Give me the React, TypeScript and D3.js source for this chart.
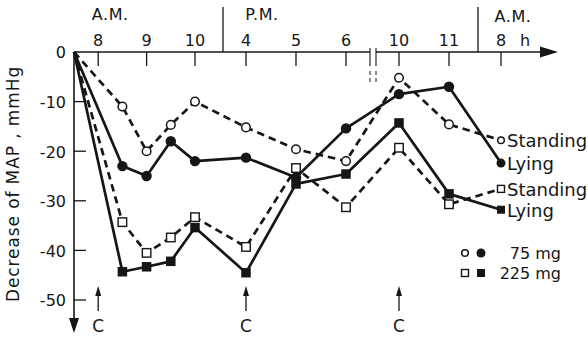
import React from "react";
import * as d3 from "d3";

// Clock hours of each measurement (day 1 from 7:30 A.M., 32 = 8 A.M. next day)
const HOURS = [7.5, 8.5, 9, 9.5, 10, 16, 17, 18, 22, 23, 32];

// Decrease of mean arterial pressure, mmHg
const STANDING_75 = [0, -11, -20, -14.7, -10, -15.2, -19.6, -22, -5.2, -14.6, -17.8];
const LYING_75 = [0, -23, -25, -18, -22, -21.3, -25.3, -15.4, -8.5, -7, -22.4];
const STANDING_225 = [0, -34.3, -40.5, -37.4, -33.3, -39.3, -23.4, -31.3, -19.3, -30.7, -27.6];
const LYING_225 = [0, -44.3, -43.3, -42.2, -35.4, -44.5, -26.6, -24.6, -14.3, -28.6, -31.8];

const TICK_HOURS = [8, 9, 10, 16, 17, 18, 22, 23, 32];
const TICK_LABELS = ["8", "9", "10", "4", "5", "6", "10", "11", "8"];
const Y_TICKS = [0, -10, -20, -30, -40, -50];
const CONTROL_HOURS = [8, 16, 22];
const PERIOD_LABELS = ["A.M.", "P.M.", "A.M."];
const DIVIDER_HOURS = [12, 24];
const BREAK_HOUR = 20;

const INK = "#161616";
const FONT = "'DejaVu Sans', 'Liberation Sans', sans-serif";

type Series = {
  values: number[];
  dashed: boolean;
  shape: "circle" | "square";
  filled: boolean;
  label: string;
};

const SERIES: Series[] = [
  { values: STANDING_75, dashed: true, shape: "circle", filled: false, label: "Standing" },
  { values: LYING_75, dashed: false, shape: "circle", filled: true, label: "Lying" },
  { values: STANDING_225, dashed: true, shape: "square", filled: false, label: "Standing" },
  { values: LYING_225, dashed: false, shape: "square", filled: true, label: "Lying" },
];

const LEGEND = [
  { shape: "circle" as const, text: "75 mg" },
  { shape: "square" as const, text: "225 mg" },
];

function Marker({ x, y, shape, filled, small }: { x: number; y: number; shape: "circle" | "square"; filled: boolean; small?: boolean }) {
  if (shape === "circle") {
    const r = filled ? (small ? 4.5 : 5.2) : small ? 3.3 : 4.3;
    return (
      <circle cx={x} cy={y} r={r} fill={filled ? INK : "#fff"} stroke={INK} strokeWidth={filled ? 0 : 1.5} />
    );
  }
  const s = filled ? (small ? 8 : 9.5) : small ? 7 : 8.5;
  return (
    <rect x={x - s / 2} y={y - s / 2} width={s} height={s} fill={filled ? INK : "#fff"} stroke={INK} strokeWidth={filled ? 0 : 1.4} />
  );
}

export default function App() {
  const W = 588;
  const H = 340;

  // Piecewise time axis: the afternoon and night stretches are compressed
  const x = d3
    .scaleLinear()
    .domain([7.5, 10, 12, 16, 18, 20, 22, 23, 24, 32])
    .range([74, 195, 223, 246, 346, 373, 399, 449, 478, 501]);
  const y = d3.scaleLinear().domain([0, -50]).range([52, 300]);

  const x0 = x(7.5);
  const y0 = y(0);
  const axisEnd = 558;
  const yAxisEnd = 333;
  const xb = x(BREAK_HOUR);

  // heading positions: morning over the first ticks, the others just right of each divider
  const periodX = [x(8.25), x(DIVIDER_HOURS[0]) + 39, x(DIVIDER_HOURS[1]) + 35];
  const periodY = [20, 20, 22];

  const line = d3
    .line<number>()
    .x((_, i) => x(HOURS[i]))
    .y((d) => y(d));

  const last = HOURS.length - 1;

  return (
    <svg
      width={W}
      height={H}
      viewBox={`0 0 ${W} ${H}`}
      style={{ position: "absolute", left: 0, top: 0, background: "#fff" }}
      fontFamily={FONT}
    >
      <rect width={W} height={H} fill="#fff" />

      {/* period headings and dividers */}
      {PERIOD_LABELS.map((p, i) => (
        <text key={"p" + i} x={periodX[i]} y={periodY[i]} textAnchor="middle" fontSize={16} fill={INK} letterSpacing={0.6}>
          {p}
        </text>
      ))}
      {DIVIDER_HOURS.map((h) => (
        <line key={"dv" + h} x1={x(h)} x2={x(h)} y1={7} y2={y0} stroke={INK} strokeWidth={1.3} />
      ))}

      {/* time axis, broken between 6 and 10 P.M. */}
      <line x1={x0} x2={xb - 3} y1={y0} y2={y0} stroke={INK} strokeWidth={1.6} />
      <line x1={xb + 3} x2={axisEnd - 14} y1={y0} y2={y0} stroke={INK} strokeWidth={1.6} />
      <path d={`M${axisEnd},${y0} L${axisEnd - 18},${y0 - 5.5} L${axisEnd - 18},${y0 + 5.5} Z`} fill={INK} />
      {[-3, 3].map((o) => (
        <g key={"br" + o}>
          <line x1={xb + o} x2={xb + o} y1={y0 - 4} y2={y0 + 14} stroke={INK} strokeWidth={1.1} />
          <line x1={xb + o} x2={xb + o} y1={y0 + 19} y2={y0 + 32} stroke={INK} strokeWidth={1} strokeDasharray="4 3" />
        </g>
      ))}
      {TICK_HOURS.map((h, i) => (
        <g key={"xt" + i}>
          <line x1={x(h)} x2={x(h)} y1={y0} y2={y0 + 14} stroke={INK} strokeWidth={1.3} />
          <text x={x(h)} y={y0 - 6} textAnchor="middle" fontSize={16} fill={INK}>
            {TICK_LABELS[i]}
          </text>
        </g>
      ))}
      <text x={525} y={y0 - 6} textAnchor="middle" fontSize={16} fill={INK}>
        h
      </text>

      {/* value axis pointing downwards */}
      <line x1={x0} x2={x0} y1={y0} y2={yAxisEnd - 12} stroke={INK} strokeWidth={1.6} />
      <path d={`M${x0},${yAxisEnd} L${x0 - 5},${yAxisEnd - 15} L${x0 + 5},${yAxisEnd - 15} Z`} fill={INK} />
      {Y_TICKS.map((t) => (
        <g key={"yt" + t}>
          {t !== 0 && <line x1={x0} x2={x0 + 12} y1={y(t)} y2={y(t)} stroke={INK} strokeWidth={1.3} />}
          <text x={66} y={y(t)} dy="0.4em" textAnchor="end" fontSize={16} fill={INK}>
            {t === 0 ? "0" : "-" + Math.abs(t)}
          </text>
        </g>
      ))}
      <text
        transform={`translate(19,${184}) rotate(-90)`}
        textAnchor="middle"
        fontSize={17}
        letterSpacing={0.9}
        fill={INK}
      >
        Decrease of MAP , mmHg
      </text>

      {/* series */}
      {SERIES.map((s, i) => (
        <path
          key={"l" + i}
          d={line(s.values) || ""}
          fill="none"
          stroke={INK}
          strokeWidth={2.7}
          strokeLinejoin="round"
          strokeDasharray={s.dashed ? "7.5 5" : undefined}
        />
      ))}
      {SERIES.map((s, i) =>
        s.values.map((v, j) =>
          j === 0 ? null : (
            <Marker key={`m${i}-${j}`} x={x(HOURS[j])} y={y(v)} shape={s.shape} filled={s.filled} small={j === last} />
          )
        )
      )}
      {SERIES.map((s, i) => (
        <text key={"lab" + i} x={x(HOURS[last]) + 6} y={y(s.values[last])} dy="0.38em" fontSize={18} fill={INK}>
          {s.label}
        </text>
      ))}

      {/* drug-administration markers */}
      {CONTROL_HOURS.map((h) => (
        <g key={"c" + h}>
          <line x1={x(h)} x2={x(h)} y1={294} y2={311} stroke={INK} strokeWidth={1.3} />
          <path d={`M${x(h)},${286} L${x(h) - 3},${296} L${x(h) + 3},${296} Z`} fill={INK} />
          <text x={x(h)} y={332} textAnchor="middle" fontSize={17} fill={INK}>
            C
          </text>
        </g>
      ))}

      {/* dose key */}
      {LEGEND.map((l, i) => {
        const ly = 253 + i * 20;
        return (
          <g key={"lg" + i}>
            <Marker x={465} y={ly} shape={l.shape} filled={false} small />
            <Marker x={481} y={ly} shape={l.shape} filled small />
            <text x={561} y={ly} dy="0.38em" textAnchor="end" fontSize={16} fill={INK}>
              {l.text}
            </text>
          </g>
        );
      })}
    </svg>
  );
}
